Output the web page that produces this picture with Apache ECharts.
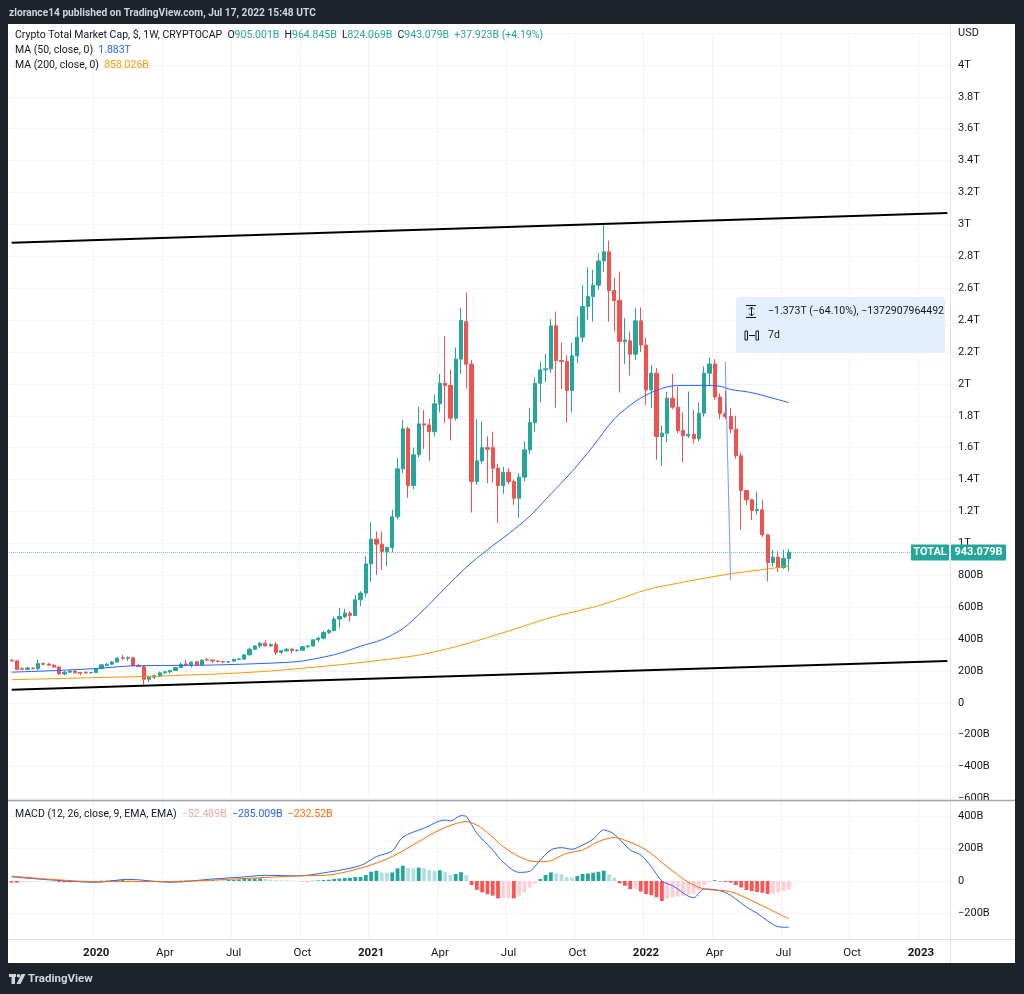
<!doctype html>
<html>
<head>
<meta charset="utf-8">
<title>Crypto Total Market Cap</title>
<script src="https://cdn.jsdelivr.net/npm/echarts@6.0.0/dist/echarts.min.js"></script>
<style>
  html, body { margin: 0; padding: 0; background: #1e222d; }
  #main { width: 1024px; height: 994px; }
</style>
</head>
<body>
<div id="main"></div>
<script>
// weekly bars, first one Mon 16 Sep 2019, last one Mon 11 Jul 2022
var START = Date.UTC(2019, 8, 16);
var WEEKS = 178; // bars + empty weeks up to the price scale

// OHLC in billions USD
var opens = [268,263,214,210,218,214,246,242,236,224,181,192,199,190,192,188,190,217,234,242,
  256,282,279,282,234,226,148,161,166,188,194,203,221,244,238,257,238,272,268,262,
  259,256,262,272,274,301,336,357,374,357,366,316,326,336,328,330,352,357,395,405,
  441,453,525,541,562,548,646,688,871,1026,995,949,974,1166,1467,1718,1362,1555,1749,1742,
  1700,1875,2004,1990,1785,2155,2390,2123,1388,1517,1600,1600,1471,1362,1446,1388,1283,1415,1586,1757,
  2004,2088,2094,2364,2146,2140,1958,2176,2293,2485,2547,2619,2771,2828,2585,2522,2265,2270,2186,2395,
  2243,1962,2067,1670,1691,1910,1854,1707,1674,1684,1655,1816,2067,2125,1917,1812,1795,1716,1549,1331,
  1273,1206,1210,1053,880,913,848,905.001];
var highs = [275,268,222,224,222,272,254,250,242,228,200,204,202,194,196,194,218,240,248,262,
  284,300,292,285,246,232,172,178,196,202,206,225,252,268,258,262,272,282,272,266,
  262,262,276,278,304,345,362,380,392,372,380,332,345,342,336,356,362,400,415,450,
  462,540,594,590,575,677,700,920,1131,1074,1074,980,1210,1536,1774,1730,1600,1856,1837,1780,
  1931,2062,2300,2090,2228,2476,2572,2150,1779,1764,1670,1700,1500,1480,1472,1400,1440,1640,1850,2040,
  2140,2188,2406,2453,2259,2180,2257,2422,2620,2730,2715,2820,2997,2898,2663,2704,2412,2328,2474,2480,
  2288,2119,2100,1740,1950,2063,1983,1820,1952,1837,1883,2109,2167,2155,1942,1960,1848,1800,1570,1335,
  1280,1325,1273,1060,960,950,960,964.845];
var lows = [258,205,206,207,210,204,236,234,222,175,172,188,186,172,182,184,186,210,228,236,
  252,270,262,228,222,115,130,150,163,180,184,200,218,232,222,236,232,262,250,252,
  248,250,255,266,270,296,330,345,352,350,300,305,320,310,320,326,344,352,382,398,
  430,448,468,530,510,545,606,660,760,803,833,855,943,1150,1440,1285,1340,1540,1592,1517,
  1670,1820,1755,1645,1770,2060,1970,1193,1367,1500,1377,1380,1127,1310,1370,1241,1158,1390,1560,1700,
  1883,2010,2070,1850,1967,1757,1820,2130,2260,2400,2390,2590,2700,2390,2328,1946,2125,2054,2150,2200,
  1868,1848,1524,1486,1632,1840,1691,1507,1660,1624,1640,1795,1987,1900,1779,1780,1690,1530,1085,1241,
  1147,1180,1040,761,855,820,840,824.069];
var closes = [263,208,210,218,214,246,242,236,224,181,192,199,188,186,188,190,213,238,242,256,
  280,279,282,234,228,148,161,169,188,194,203,221,242,238,255,238,268,268,262,259,
  256,258,272,275,301,336,357,374,357,366,316,326,336,328,330,352,357,395,405,441,
  453,525,541,562,548,646,688,871,1026,995,949,974,1166,1467,1718,1362,1555,1749,1742,1700,
  1875,2004,1990,1785,2155,2397,2123,1388,1517,1600,1590,1471,1362,1446,1388,1283,1415,1586,1757,2004,
  2088,2094,2364,2146,2140,1958,2176,2293,2485,2547,2619,2771,2828,2585,2522,2265,2275,2186,2395,2243,
  1962,2067,1670,1691,1910,1854,1707,1674,1684,1655,1816,2067,2125,1917,1812,1795,1716,1549,1331,1273,
  1206,1212,1053,880,913,848,905.156,943.079];

// moving averages: [week index, value in B]
var ma50 = [[0,192],[8,202],[16,215],[23,232],[30,234],[38,237],[46,245],[54,258],[58,280],[62,310],
  [66,355],[70,395],[74,465],[78,585],[82,720],[86,850],[90,960],[94,1060],[98,1170],[102,1310],
  [106,1450],[110,1610],[114,1780],[118,1890],[122,1960],[126,1990],[130,1990],[134,1985],[136,1965],
  [140,1945],[144,1910],[147,1883]];
var ma200 = [[0,145],[16,158],[30,170],[46,193],[60,232],[70,268],[78,305],[86,370],[94,450],
  [102,535],[110,600],[114,640],[120,708],[126,750],[130,775],[136,809],[142,835],[147,858.026]];

// MACD (12, 26, 9) in B
var macdLine = [[0,25],[8,5],[16,-8],[22,10],[30,-8],[38,12],[44,25],[48,35],[54,31],[60,55],[66,95],
  [69,150],[72,185],[74,270],[78,325],[82,375],[83,369],[85,402],[86,396],[88,294],[91,191],[93,115],
  [96,53],[98,60],[100,129],[102,191],[104,205],[106,195],[107,205],[110,257],[112,314],[114,287],
  [117,191],[119,160],[121,88],[123,0],[125,-29],[129,-103],[131,-49],[135,-70],[139,-160],[141,-199],
  [143,-245],[145,-282],[147,-285.009]];
var signalLine = [[0,30],[16,-4],[30,-4],[42,12],[54,31],[60,37],[67,88],[72,150],[77,242],[81,314],
  [86,365],[89,324],[93,211],[96,150],[99,119],[101,119],[105,170],[108,191],[111,242],[114,267],
  [117,238],[120,191],[124,88],[128,-8],[131,-49],[136,-66],[141,-137],[147,-232.52]];
var histogram = [-10,-10,-9,-8,-4,-2,-1,-1,-2,-6,-8,-8,-7,-4,-3,-2,-1,
  2,3,4,5,6,5,3,
  -4,-6,-5,-4,-3,-2,-1,1,
  2,3,3,4,3,4,5,5,5,6,7,
  9,12,14,15,16,
  12,9,6,4,3,2,1,
  -2,-3,
  2,4,6,8,12,15,18,20,
  24,25,37,57,63,52,50,52,78,94,80,78,82,78,68,61,66,54,37,43,54,37,
  -25,-55,-70,-82,-90,-107,-106,-105,-107,-90,-70,-41,-16,
  12,37,53,47,43,23,21,31,43,47,51,57,63,41,21,
  -14,-29,-50,-48,-65,-80,-88,-100,-123,-108,-100,-95,-92,-85,-78,-55,-25,-8,
  5,
  -3,-6,-10,-25,-40,-55,-62,-68,-72,-80,-78,-70,-62,-52.489];

// drawings on the chart: [week index, value in B]
var trendUpper = [[0,2885],[177,3071]];
var trendLower = [[0,82],[177,262]];
var measureLine = [[135,2138],[136,771]];

var cats = [];
for (var k = 0; k < WEEKS; k++) {
  cats.push(new Date(START + k * 7 * 86400000).toISOString().slice(0, 10));
}

var MINUS = '\u2212';
var FONT = 'Roboto, "Liberation Sans", sans-serif';
var UP = '#26a69a', DOWN = '#ef5350';
var INK = '#131722';
var HEAD = 10.5;

function num(v) { return (v < 0 ? MINUS : '') + (+Math.abs(v).toFixed(3)); }
function big(v) { return Math.abs(v) >= 1000 ? num(v / 1000) + 'T' : num(v) + 'B'; }

// first weekly bar of Jan/Apr/Jul/Oct (too close to the left edge is skipped)
function quarterStart(idx, val) {
  var m = +val.slice(5, 7), d = +val.slice(8, 10);
  return idx > 6 && d <= 7 && (m - 1) % 3 === 0;
}
var MONTHS = ['', 'Jan', 'Feb', 'Mar', 'Apr', 'May', 'Jun', 'Jul', 'Aug', 'Sep', 'Oct', 'Nov', 'Dec'];

var last = closes.length - 1;
var chg = closes[last] - closes[last - 1];
var pct = chg / closes[last - 1] * 100;

var histData = histogram.map(function (v, i) {
  var p = i > 0 ? histogram[i - 1] : v;
  var c = v >= 0 ? (v > p ? '#26a69a' : '#b2dfdb') : (v > p ? '#ffcdd2' : '#ff5252');
  return { value: v, itemStyle: { color: c } };
});

function rs(color) { return { color: color, fontSize: HEAD, fontWeight: 'normal', fontFamily: FONT }; }
function head(text, top, rich) {
  return { text: text, left: 15, top: top, padding: 0,
    textStyle: { fontSize: HEAD, fontWeight: 'normal', fontFamily: FONT, rich: rich } };
}

var myChart = echarts.init(document.getElementById('main'));

var option = {
  animation: false,
  backgroundColor: '#1e222d',
  textStyle: { fontFamily: FONT },
  title: [
    { text: 'zlorance14 published on TradingView.com, Jul 17, 2022 15:48 UTC', left: 9, top: 8, padding: 0,
      textStyle: { color: '#d1d4dc', fontSize: 10.2, fontWeight: 'bold', fontFamily: FONT } },
    head('{d|Crypto Total Market Cap, $, 1W, CRYPTOCAP}  {d|O}{g|' + big(opens[last]) + '}  {d|H}{g|' + big(highs[last]) +
        '}  {d|L}{g|' + big(lows[last]) + '}  {d|C}{g|' + big(closes[last]) + '}  {g|+' + big(chg) + ' (+' + pct.toFixed(2) + '%)}',
      30, { d: rs(INK), g: rs(UP) }),
    head('{d|MA (50, close, 0)}  {b|' + big(ma50[ma50.length - 1][1]) + '}', 45, { d: rs(INK), b: rs('#2962ff') }),
    head('{d|MA (200, close, 0)}  {o|' + big(ma200[ma200.length - 1][1]) + '}', 60, { d: rs(INK), o: rs('#ff9800') }),
    head('{d|MACD (12, 26, close, 9, EMA, EMA)}  {h|' + big(histogram[last]) + '}  {b|' + big(macdLine[macdLine.length - 1][1]) +
        '}  {o|' + big(signalLine[signalLine.length - 1][1]) + '}', 809,
      { d: rs(INK), h: rs('#f8a5ae'), b: rs('#2962ff'), o: rs('#ff6d00') }),
    { text: 'TradingView', left: 28, top: 973, padding: 0,
      textStyle: { color: '#d1d4dc', fontSize: 11.5, fontWeight: 'bold', fontFamily: FONT } }
  ],
  grid: [
    { left: 9, right: 74, top: 33, height: 765.5 },
    { left: 9, right: 74, top: 801, height: 138 }
  ],
  xAxis: [
    { type: 'category', gridIndex: 0, data: cats, boundaryGap: true,
      axisLine: { show: false }, axisTick: { show: false }, axisLabel: { show: false },
      splitLine: { show: true, interval: quarterStart, lineStyle: { color: '#f0f3fa' } } },
    { type: 'category', gridIndex: 1, data: cats, boundaryGap: true,
      axisLine: { show: false }, axisTick: { show: false },
      axisLabel: { interval: quarterStart, color: INK, fontSize: 11.5, margin: 8, fontFamily: FONT,
        formatter: function (val) {
          var m = +val.slice(5, 7);
          return m === 1 ? '{y|' + val.slice(0, 4) + '}' : MONTHS[m];
        },
        rich: { y: { fontWeight: 'bold', color: INK, fontSize: 11.5, fontFamily: FONT } } },
      splitLine: { show: true, interval: quarterStart, lineStyle: { color: '#f0f3fa' } } }
  ],
  yAxis: [
    { type: 'value', gridIndex: 0, position: 'right', min: -600, max: 4200, interval: 200,
      axisLine: { show: false }, axisTick: { show: false },
      axisLabel: { color: INK, fontSize: 11, margin: 8, fontFamily: FONT,
        formatter: function (v) {
          v = Math.round(v);
          if (v === 4200) return 'USD';
          if (v === 0) return '0';
          return big(v);
        } },
      splitLine: { lineStyle: { color: '#f0f3fa' } } },
    { type: 'value', gridIndex: 1, position: 'right', min: -357, max: 492, splitNumber: 4,
      axisLine: { show: false }, axisTick: { show: false },
      axisLabel: { color: INK, fontSize: 11, margin: 8, fontFamily: FONT, showMinLabel: false, showMaxLabel: false,
        formatter: function (v) {
          v = Math.round(v);
          if (v % 200 !== 0) return '';
          return v === 0 ? '0' : num(v) + 'B';
        } },
      splitLine: { lineStyle: { color: '#f0f3fa' } } }
  ],
  series: [
    { name: 'trend top', type: 'line', xAxisIndex: 0, yAxisIndex: 0, data: trendUpper, symbol: 'none',
      lineStyle: { color: '#000', width: 2 }, z: 4, silent: true },
    { name: 'trend bottom', type: 'line', xAxisIndex: 0, yAxisIndex: 0, data: trendLower, symbol: 'none',
      lineStyle: { color: '#000', width: 2 }, z: 4, silent: true },
    { name: 'MA 200', type: 'line', xAxisIndex: 0, yAxisIndex: 0, data: ma200, symbol: 'none', smooth: 0.3,
      lineStyle: { color: '#ff9800', width: 1 }, z: 3 },
    { name: 'MA 50', type: 'line', xAxisIndex: 0, yAxisIndex: 0, data: ma50, symbol: 'none', smooth: 0.3,
      lineStyle: { color: '#2962ff', width: 1 }, z: 3 },
    { name: 'TOTAL', type: 'candlestick', xAxisIndex: 0, yAxisIndex: 0, barWidth: '70%',
      data: opens.map(function (o, i) { return [o, closes[i], lows[i], highs[i]]; }),
      itemStyle: { color: UP, color0: DOWN, borderColor: UP, borderColor0: DOWN, borderWidth: 1 },
      markLine: { silent: true, symbol: 'none', label: { show: false },
        lineStyle: { type: 'dotted', color: UP, width: 1, opacity: 0.6 },
        data: [{ yAxis: closes[last] }] },
      z: 2 },
    { name: 'measure', type: 'line', xAxisIndex: 0, yAxisIndex: 0, data: measureLine, symbol: 'none',
      lineStyle: { color: '#6f9cf7', width: 1 }, z: 5, silent: true },
    { name: 'Histogram', type: 'bar', xAxisIndex: 1, yAxisIndex: 1, data: histData, barWidth: '72%' },
    { name: 'MACD', type: 'line', xAxisIndex: 1, yAxisIndex: 1, data: macdLine, symbol: 'none', smooth: 0.3,
      lineStyle: { color: '#2962ff', width: 1 }, z: 3 },
    { name: 'Signal', type: 'line', xAxisIndex: 1, yAxisIndex: 1, data: signalLine, symbol: 'none', smooth: 0.3,
      lineStyle: { color: '#ff6d00', width: 1 }, z: 3 }
  ]
};

myChart.setOption(option);

// frame, separators, price label, measure box, logo
var py = myChart.convertToPixel({ yAxisIndex: 0 }, closes[last]);
var LINE = '#e0e3eb';
var LOGO = '#d1d4dc';
myChart.setOption({
  graphic: [
    { type: 'rect', z: -100, shape: { x: 8, y: 24, width: 1007, height: 939 }, style: { fill: '#ffffff' } },
    { type: 'line', z: 50, shape: { x1: 950.5, y1: 24, x2: 950.5, y2: 963 }, style: { stroke: LINE, lineWidth: 1 } },
    { type: 'line', z: 50, shape: { x1: 8, y1: 939.5, x2: 1015, y2: 939.5 }, style: { stroke: LINE, lineWidth: 1 } },
    { type: 'line', z: 50, shape: { x1: 8, y1: 800.5, x2: 1015, y2: 800.5 }, style: { stroke: '#a3a6af', lineWidth: 1.5 } },
    { type: 'rect', z: 60, shape: { x: 911, y: py - 8, width: 38, height: 16, r: 1 }, style: { fill: UP } },
    { type: 'text', z: 61, style: { x: 930, y: py, text: 'TOTAL', fill: '#fff', font: 'bold 11px ' + FONT,
      textAlign: 'center', textVerticalAlign: 'middle' } },
    { type: 'rect', z: 60, shape: { x: 951, y: py - 8, width: 55, height: 16, r: 1 }, style: { fill: UP } },
    { type: 'text', z: 61, style: { x: 978.5, y: py, text: big(closes[last]), fill: '#fff', font: 'bold 11px ' + FONT,
      textAlign: 'center', textVerticalAlign: 'middle' } },
    // measure tool label
    { type: 'rect', z: 40, shape: { x: 736, y: 297, width: 209, height: 56, r: 3 }, style: { fill: '#e3effd' } },
    { type: 'line', z: 41, shape: { x1: 746, y1: 305.5, x2: 756, y2: 305.5 }, style: { stroke: INK, lineWidth: 1 } },
    { type: 'line', z: 41, shape: { x1: 746, y1: 317.5, x2: 756, y2: 317.5 }, style: { stroke: INK, lineWidth: 1 } },
    { type: 'line', z: 41, shape: { x1: 751.5, y1: 307, x2: 751.5, y2: 316 }, style: { stroke: INK, lineWidth: 1 } },
    { type: 'polyline', z: 41, shape: { points: [[749, 309.5], [751.5, 307], [754, 309.5]] }, style: { stroke: INK, fill: null, lineWidth: 1 } },
    { type: 'polyline', z: 41, shape: { points: [[749, 313.5], [751.5, 316], [754, 313.5]] }, style: { stroke: INK, fill: null, lineWidth: 1 } },
    { type: 'text', z: 41, style: { x: 768, y: 311, text: MINUS + '1.373T (' + MINUS + '64.10%), ' + MINUS + '1372907964492',
      fill: INK, font: '10.5px ' + FONT, textVerticalAlign: 'middle' } },
    { type: 'rect', z: 41, shape: { x: 745, y: 331, width: 2.5, height: 9 }, style: { fill: null, stroke: INK, lineWidth: 1 } },
    { type: 'rect', z: 41, shape: { x: 756, y: 331, width: 2.5, height: 9 }, style: { fill: null, stroke: INK, lineWidth: 1 } },
    { type: 'line', z: 41, shape: { x1: 749, y1: 335.5, x2: 755, y2: 335.5 }, style: { stroke: INK, lineWidth: 1 } },
    { type: 'text', z: 41, style: { x: 768, y: 335, text: '7d', fill: INK, font: '10.5px ' + FONT, textVerticalAlign: 'middle' } },
    // logo
    { type: 'rect', z: 10, shape: { x: 9, y: 974, width: 7, height: 3 }, style: { fill: LOGO } },
    { type: 'rect', z: 10, shape: { x: 11.5, y: 974, width: 3.5, height: 10 }, style: { fill: LOGO } },
    { type: 'circle', z: 10, shape: { cx: 18.5, cy: 975.8, r: 1.8 }, style: { fill: LOGO } },
    { type: 'polygon', z: 10, shape: { points: [[21.5, 974], [25.5, 974], [20.5, 984], [16.5, 984]] }, style: { fill: LOGO } }
  ]
});
</script>
</body>
</html>
